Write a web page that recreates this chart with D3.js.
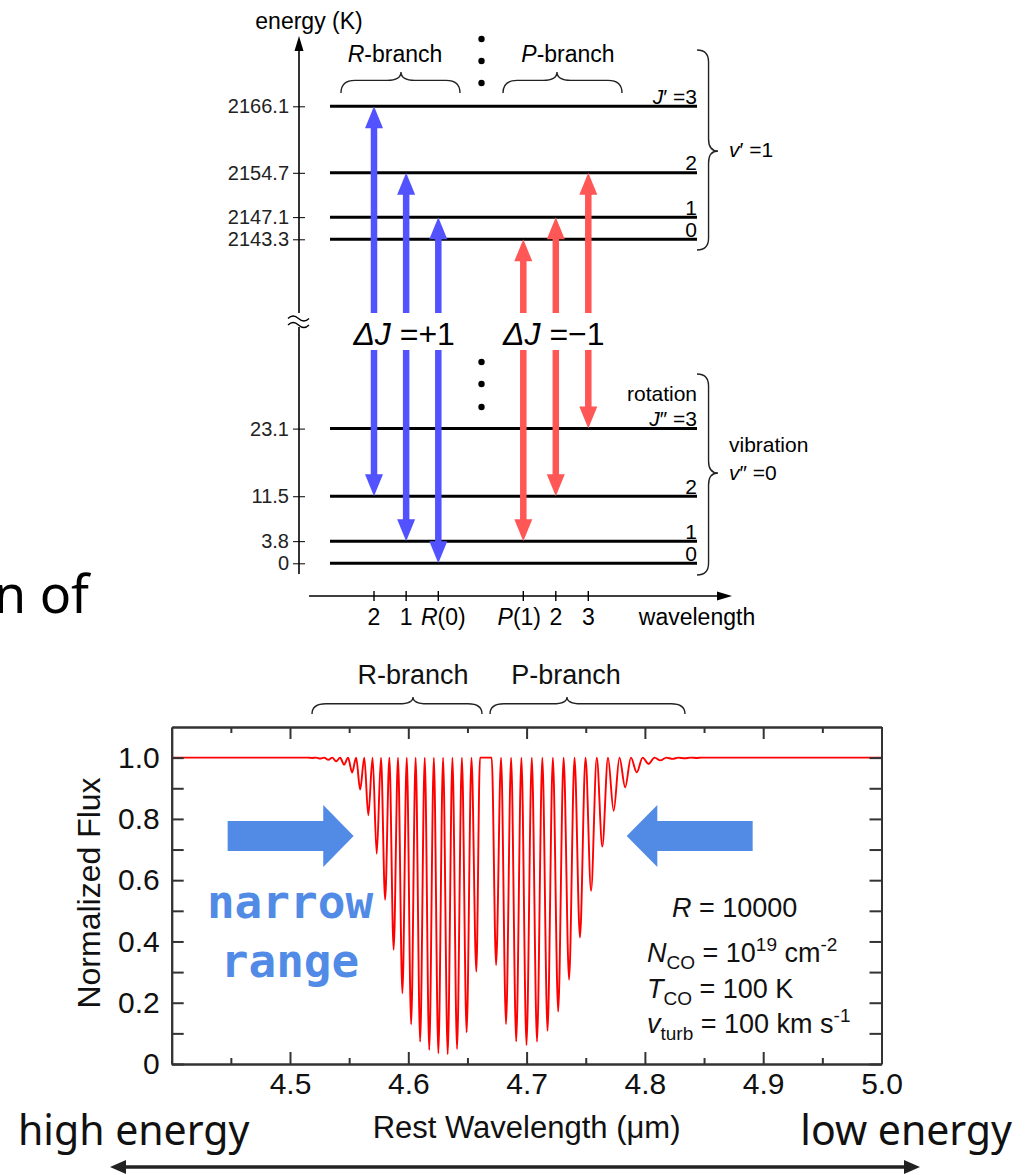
<!DOCTYPE html>
<html>
<head>
<meta charset="utf-8">
<script src="https://cdn.jsdelivr.net/npm/d3@7"></script>
<style>
body { margin: 0; background: #fff; }
svg { display: block; font-family: 'Liberation Sans', Arial, sans-serif; }
</style>
</head>
<body>
<script>
// ---- energy level diagram data ----
var upperJ = [0, 1, 2, 3];
var upperE = [2143.3, 2147.1, 2154.7, 2166.1];   // v'=1, K
var lowerJ = [0, 1, 2, 3];
var lowerE = [0, 3.8, 11.5, 23.1];               // v''=0, K

// transitions, keyed by lower level J''
var rBranchJ = [2, 1, 0];     // J' = J''+1
var pBranchJ = [1, 2, 3];     // J' = J''-1
var rLabels = ['2', '1', 'R(0)'];
var pLabels = ['P(1)', '2', '3'];

// ---- spectrum data ----
var lineWl = [4.5186, 4.5254, 4.5324, 4.5390, 4.5457, 4.5525, 4.5593, 4.5662, 4.5733, 4.5804,
              4.5876, 4.5950, 4.6024, 4.6100, 4.6177, 4.6254, 4.6333, 4.6412, 4.6493, 4.6575,
              4.6742, 4.6826, 4.6912, 4.6999, 4.7088, 4.7177, 4.7267, 4.7359, 4.7451, 4.7545,
              4.7640, 4.7736, 4.7833, 4.7931, 4.8031, 4.8131, 4.8233, 4.8335, 4.8438];
var lineFlux = [0.999, 0.997, 0.993, 0.988, 0.977, 0.951, 0.896, 0.812, 0.686, 0.536,
                0.373, 0.231, 0.129, 0.073, 0.046, 0.035, 0.032, 0.049, 0.103, 0.301,
                0.323, 0.130, 0.074, 0.062, 0.073, 0.108, 0.171, 0.275, 0.413, 0.565,
                0.710, 0.826, 0.903, 0.952, 0.979, 0.991, 0.996, 0.998, 0.999];
// continuum maxima between lines
var peakWl = [4.40, 4.5150, 4.5220, 4.5289, 4.5357, 4.5424, 4.5491, 4.5559, 4.5628, 4.5698,
              4.5769, 4.5840, 4.5913, 4.5987, 4.6062, 4.6139, 4.6216, 4.6294, 4.6373, 4.6453,
              4.6534, 4.6606, 4.6705, 4.6784, 4.6869, 4.6956, 4.7044, 4.7133, 4.7222, 4.7313,
              4.7405, 4.7498, 4.7593, 4.7688, 4.7785, 4.7882, 4.7981, 4.8081, 4.8182, 4.8284,
              4.8387, 4.8480, 5.00];
var continuum = 1.0;

var xTicks = [4.5, 4.6, 4.7, 4.8, 4.9, 5.0];
var xMinor = [4.45, 4.55, 4.65, 4.75, 4.85, 4.95];
var yTicks = [0, 0.2, 0.4, 0.6, 0.8, 1.0];
var yMinor = [0.1, 0.3, 0.5, 0.7, 0.9];

var blue = '#5252ff', red = '#ff5656', annBlue = '#528be6';

var svg = d3.select('body').append('svg')
  .attr('width', 1025).attr('height', 1175);

// clipped slide text on the left
svg.append('text').attr('x', -6).attr('y', 613)
  .style('font-family', "'Noto Sans', sans-serif").style('font-size', '52px')
  .text('n of');

// ============ energy level diagram ============
var dg = svg.append('g');
var axisX = 299, levX0 = 330, levX1 = 697;
var yHi = d3.scaleLinear().domain([2143.3, 2166.1]).range([239.3, 106.3]);
var yLo = d3.scaleLinear().domain([0, 23.1]).range([563.3, 428.6]);
var xR = d3.scalePoint().domain(rBranchJ).range([374, 438.3]);
var xP = d3.scalePoint().domain(pBranchJ).range([523.3, 588.3]);

function tickFmt(d) { return d === 0 ? '0' : d.toFixed(1); }

[[yHi, upperE], [yLo, lowerE]].forEach(function (p) {
  var ax = dg.append('g').attr('transform', 'translate(' + axisX + ',0)')
    .call(d3.axisLeft(p[0]).tickValues(p[1]).tickFormat(tickFmt).tickSize(6).tickPadding(4));
  ax.select('.domain').remove();
  ax.selectAll('.tick line').attr('x1', 6).attr('stroke', '#000');
  ax.selectAll('.tick text').style('font-size', '20px').style('font-family', "'Liberation Sans', Arial, sans-serif").attr('fill', '#222');
});

// vertical axis with break and arrow
dg.append('line').attr('x1', axisX).attr('x2', axisX).attr('y1', 48).attr('y2', 313).attr('stroke', '#000').attr('stroke-width', 1.6);
dg.append('line').attr('x1', axisX).attr('x2', axisX).attr('y1', 327).attr('y2', 574).attr('stroke', '#000').attr('stroke-width', 1.6);
dg.append('path').attr('d', 'M' + axisX + ',36 L' + (axisX - 4.5) + ',51 L' + (axisX + 4.5) + ',51 Z').attr('fill', '#000');
[317.5, 324].forEach(function (yy) {
  dg.append('path')
    .attr('d', 'M288,' + (yy + 1) + ' q5,-5 10.5,0 t10.5,0')
    .attr('fill', 'none').attr('stroke', '#000').attr('stroke-width', 1.4);
});
dg.append('text').attr('x', 309).attr('y', 29).attr('text-anchor', 'middle')
  .style('font-size', '23px').text('energy (K)');

// horizontal wavelength axis
dg.append('line').attr('x1', 309).attr('x2', 720).attr('y1', 596).attr('y2', 596).attr('stroke', '#000').attr('stroke-width', 1.6);
dg.append('path').attr('d', 'M732,596 L717,591.5 L717,600.5 Z').attr('fill', '#000');
var tPos = rBranchJ.map(function (j) { return xR(j); }).concat(pBranchJ.map(function (j) { return xP(j); }));
var tLab = rLabels.concat(pLabels);
dg.selectAll('.wtick').data(tPos).enter().append('line')
  .attr('x1', function (d) { return d; }).attr('x2', function (d) { return d; })
  .attr('y1', 591).attr('y2', 601).attr('stroke', '#000').attr('stroke-width', 1.4);
dg.selectAll('.wlab').data(tLab).enter().append('text')
  .attr('x', function (d, i) { return tPos[i] + (d.length > 1 ? (i < 3 ? 5 : -4) : 0); }).attr('y', 625)
  .attr('text-anchor', 'middle').style('font-size', '23px')
  .each(function (d) {
    var t = d3.select(this);
    if (d.length > 1) {
      t.append('tspan').style('font-style', 'italic').text(d[0]);
      t.append('tspan').text(d.slice(1));
    } else t.text(d);
  });
dg.append('text').attr('x', 697).attr('y', 625).attr('text-anchor', 'middle')
  .style('font-size', '23px').text('wavelength');

// levels
function levels(scale, E) {
  dg.selectAll(null).data(E).enter().append('line')
    .attr('x1', levX0).attr('x2', levX1)
    .attr('y1', function (d) { return scale(d); }).attr('y2', function (d) { return scale(d); })
    .attr('stroke', '#000').attr('stroke-width', 3);
}
levels(yHi, upperE);
levels(yLo, lowerE);

function jLabel(y, j, primes) {
  var t = dg.append('text').attr('x', levX1).attr('y', y - 2.5).attr('text-anchor', 'end').style('font-size', '21px');
  if (j === 3) {
    t.append('tspan').style('font-style', 'italic').text('J');
    t.append('tspan').text(primes + ' =3');
  } else t.text(j);
}
upperJ.forEach(function (j, i) { jLabel(yHi(upperE[i]), j, '\u2032'); });
lowerJ.forEach(function (j, i) { jLabel(yLo(lowerE[i]), j, '\u2033'); });
dg.append('text').attr('x', levX1).attr('y', 401).attr('text-anchor', 'end').style('font-size', '21px').text('rotation');

// braces
function braceV(x0, y1, y2, xTip, yTip) {
  var xm = x0 + (xTip - x0) * 0.55, q = 12;
  return 'M' + x0 + ',' + y1 + ' Q' + xm + ',' + y1 + ' ' + xm + ',' + (y1 + q) +
    ' L' + xm + ',' + (yTip - q) + ' Q' + xm + ',' + yTip + ' ' + xTip + ',' + yTip +
    ' Q' + xm + ',' + yTip + ' ' + xm + ',' + (yTip + q) +
    ' L' + xm + ',' + (y2 - q) + ' Q' + xm + ',' + y2 + ' ' + x0 + ',' + y2;
}
function braceH(x1, x2, yEnd, xTip, yTip) {
  var ym = yEnd - (yEnd - yTip) * 0.6, q = 14;
  return 'M' + x1 + ',' + yEnd + ' Q' + x1 + ',' + ym + ' ' + (x1 + q) + ',' + ym +
    ' L' + (xTip - q) + ',' + ym + ' Q' + xTip + ',' + ym + ' ' + xTip + ',' + yTip +
    ' Q' + xTip + ',' + ym + ' ' + (xTip + q) + ',' + ym +
    ' L' + (x2 - q) + ',' + ym + ' Q' + x2 + ',' + ym + ' ' + x2 + ',' + yEnd;
}
var braceStyle = function (s) { s.attr('fill', 'none').attr('stroke', '#222').attr('stroke-width', 1.4); };
dg.append('path').attr('d', braceV(697, 50, 250, 718, 151)).call(braceStyle);
dg.append('path').attr('d', braceV(697, 374, 575, 718, 473)).call(braceStyle);
dg.append('path').attr('d', braceH(341, 460, 93, 401, 72)).call(braceStyle);
dg.append('path').attr('d', braceH(503, 622, 93, 557, 72)).call(braceStyle);

function italicLead(x, y, size, anchor, lead, rest) {
  var t = dg.append('text').attr('x', x).attr('y', y).attr('text-anchor', anchor).style('font-size', size);
  t.append('tspan').style('font-style', 'italic').text(lead);
  t.append('tspan').text(rest);
  return t;
}
italicLead(395, 62, '23px', 'middle', 'R', '-branch');
italicLead(568, 62, '23px', 'middle', 'P', '-branch');
italicLead(729, 157, '21px', 'start', 'v', '\u2032 =1');
dg.append('text').attr('x', 729).attr('y', 452).style('font-size', '21px').text('vibration');
italicLead(729, 480, '21px', 'start', 'v', '\u2033 =0');

// vertical dots
[39, 61, 83, 362, 384, 407].forEach(function (yy) {
  dg.append('circle').attr('cx', 481.5).attr('cy', yy).attr('r', 3.2).attr('fill', '#000');
});

// transition arrows
var gapTop = 313, gapBot = 350;
function vArrow(x, yTop, yBot, color) {
  var hw = 9, hl = 22, sw = 6.5;
  dg.append('path').attr('d', 'M' + x + ',' + yTop + ' L' + (x - hw) + ',' + (yTop + hl) + ' L' + (x + hw) + ',' + (yTop + hl) + ' Z').attr('fill', color);
  dg.append('path').attr('d', 'M' + x + ',' + yBot + ' L' + (x - hw) + ',' + (yBot - hl) + ' L' + (x + hw) + ',' + (yBot - hl) + ' Z').attr('fill', color);
  dg.append('rect').attr('x', x - sw / 2).attr('width', sw).attr('y', yTop + hl - 1).attr('height', gapTop - yTop - hl + 1).attr('fill', color);
  dg.append('rect').attr('x', x - sw / 2).attr('width', sw).attr('y', gapBot).attr('height', yBot - hl + 1 - gapBot).attr('fill', color);
}
rBranchJ.forEach(function (j) {
  vArrow(xR(j), yHi(upperE[upperJ.indexOf(j + 1)]), yLo(lowerE[lowerJ.indexOf(j)]), blue);
});
pBranchJ.forEach(function (j) {
  vArrow(xP(j), yHi(upperE[upperJ.indexOf(j - 1)]), yLo(lowerE[lowerJ.indexOf(j)]), red);
});
italicLead(xR(1) - 2, 345, '32px', 'middle', '\u0394J', ' =+1');
italicLead(xP(2) - 2, 345, '32px', 'middle', '\u0394J', ' =\u22121');

// ============ spectrum ============
var sg = svg.append('g');
var x = d3.scaleLinear().domain([4.4, 5.0]).range([171.7, 881.5]);
var y = d3.scaleLinear().domain([0, 1.1]).range([1064, 727]);

var pts = peakWl.map(function (w) { return [w, continuum]; })
  .concat(lineWl.map(function (w, i) { return [w, lineFlux[i]]; }))
  .sort(function (a, b) { return a[0] - b[0]; });

sg.append('path').datum(pts)
  .attr('d', d3.line().x(function (d) { return x(d[0]); }).y(function (d) { return y(d[1]); }).curve(d3.curveMonotoneX))
  .attr('fill', 'none').attr('stroke', '#ff0000').attr('stroke-width', 1.9);

function styleAxis(g) {
  g.selectAll('.domain').attr('stroke', '#333').attr('stroke-width', 2);
  g.selectAll('.tick line').attr('stroke', '#333').attr('stroke-width', 2);
  g.selectAll('.tick text').style('font-size', '30px').style('font-family', "'Liberation Sans', Arial, sans-serif").attr('fill', '#111');
}
var fmt1 = function (d) { return d === 0 ? '0' : d.toFixed(1); };
sg.append('g').attr('transform', 'translate(0,1064)')
  .call(d3.axisBottom(x).tickValues(xTicks).tickFormat(fmt1).tickSize(-12).tickSizeOuter(0).tickPadding(9)).call(styleAxis);
sg.append('g').attr('transform', 'translate(0,1064)')
  .call(d3.axisBottom(x).tickValues(xMinor).tickFormat('').tickSize(-6).tickSizeOuter(0)).call(styleAxis);
sg.append('g').attr('transform', 'translate(0,727)')
  .call(d3.axisTop(x).tickValues(xTicks).tickFormat('').tickSize(-12).tickSizeOuter(0)).call(styleAxis);
sg.append('g').attr('transform', 'translate(0,727)')
  .call(d3.axisTop(x).tickValues(xMinor).tickFormat('').tickSize(-6).tickSizeOuter(0)).call(styleAxis);
sg.append('g').attr('transform', 'translate(171.7,0)')
  .call(d3.axisLeft(y).tickValues(yTicks).tickFormat(fmt1).tickSize(-12).tickSizeOuter(0).tickPadding(12)).call(styleAxis);
sg.append('g').attr('transform', 'translate(171.7,0)')
  .call(d3.axisLeft(y).tickValues(yMinor).tickFormat('').tickSize(-12).tickSizeOuter(0)).call(styleAxis);
sg.append('g').attr('transform', 'translate(881.5,0)')
  .call(d3.axisRight(y).tickValues(yTicks.concat(yMinor)).tickFormat('').tickSize(-12).tickSizeOuter(0)).call(styleAxis);

sg.append('text').attr('transform', 'translate(100,893) rotate(-90)').attr('text-anchor', 'middle')
  .style('font-size', '32px').attr('fill', '#111').text('Normalized Flux');
sg.append('text').attr('x', x(4.7)).attr('y', 1138).attr('text-anchor', 'middle')
  .style('font-size', '31px').attr('fill', '#111').text('Rest Wavelength (\u03bcm)');

// branch braces
sg.append('path').attr('d', braceH(312, 482, 714, 413, 697)).call(braceStyle);
sg.append('path').attr('d', braceH(490, 685, 714, 567, 697)).call(braceStyle);
sg.append('text').attr('x', 413).attr('y', 684).attr('text-anchor', 'middle').style('font-size', '27px').attr('fill', '#111').text('R-branch');
sg.append('text').attr('x', 566).attr('y', 684).attr('text-anchor', 'middle').style('font-size', '27px').attr('fill', '#111').text('P-branch');

// parameter block
function paramLine(yy, parts) {
  var t = sg.append('text').attr('x', 647).attr('y', yy).style('font-size', '27px').attr('fill', '#111');
  parts.forEach(function (p) {
    var s = t.append('tspan').text(p.t);
    if (p.i) s.style('font-style', 'italic');
    if (p.dy) s.attr('dy', p.dy);
    if (p.fs) s.style('font-size', p.fs);
  });
}
sg.append('text').attr('x', 672).attr('y', 917).style('font-size', '27px').attr('fill', '#111')
  .call(function (t) { t.append('tspan').style('font-style', 'italic').text('R'); t.append('tspan').text(' = 10000'); });
paramLine(962, [{ t: 'N', i: 1 }, { t: 'CO', fs: '19px', dy: 7 }, { t: ' = 10', dy: -7 }, { t: '19', fs: '19px', dy: -11 }, { t: ' cm', dy: 11 }, { t: '-2', fs: '19px', dy: -11 }]);
paramLine(998, [{ t: 'T', i: 1 }, { t: 'CO', fs: '19px', dy: 7 }, { t: ' = 100 K', dy: -7 }]);
paramLine(1033, [{ t: 'v', i: 1 }, { t: 'turb', fs: '19px', dy: 7 }, { t: ' = 100 km s', dy: -7 }, { t: '-1', fs: '19px', dy: -11 }]);

// "narrow range" overlay
function blockArrow(tipWl, baseWl, tailWl, f) {
  var xt = x(tipWl), xb = x(baseWl), xe = x(tailWl), yc = y(f);
  var p = [[xt, yc], [xb, yc - 31], [xb, yc - 15], [xe, yc - 15], [xe, yc + 15], [xb, yc + 15], [xb, yc + 31]];
  sg.append('path').attr('d', 'M' + p.join('L') + 'Z').attr('fill', annBlue);
}
blockArrow(4.5538, 4.5281, 4.4473, 0.744);
blockArrow(4.7846, 4.8105, 4.8911, 0.744);
sg.append('text').attr('x', x(4.5)).attr('y', 918).attr('text-anchor', 'middle')
  .style('font-family', "'DejaVu Sans Mono', monospace").style('font-weight', 'bold').style('font-size', '46px')
  .attr('fill', annBlue).text('narrow');
sg.append('text').attr('x', x(4.5)).attr('y', 977).attr('text-anchor', 'middle')
  .style('font-family', "'DejaVu Sans Mono', monospace").style('font-weight', 'bold').style('font-size', '46px')
  .attr('fill', annBlue).text('range');

// bottom energy direction
svg.append('text').attr('x', 18).attr('y', 1145).style('font-family', "'Noto Sans', sans-serif").style('font-size', '41px').attr('fill', '#111').text('high energy');
svg.append('text').attr('x', 1012).attr('y', 1145).attr('text-anchor', 'end').style('font-family', "'Noto Sans', sans-serif").style('font-size', '41px').attr('fill', '#111').text('low energy');
svg.append('line').attr('x1', 122).attr('x2', 908).attr('y1', 1167).attr('y2', 1167).attr('stroke', '#222').attr('stroke-width', 3.5);
svg.append('path').attr('d', 'M110,1167 L126,1160 L126,1174 Z').attr('fill', '#222');
svg.append('path').attr('d', 'M920,1167 L904,1160 L904,1174 Z').attr('fill', '#222');
</script>
</body>
</html>
